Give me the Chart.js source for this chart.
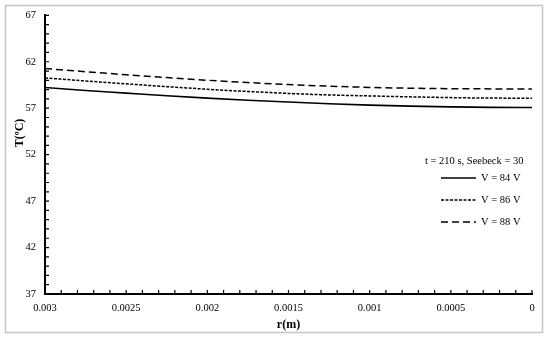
<!DOCTYPE html>
<html>
<head>
<meta charset="utf-8">
<script src="https://cdn.jsdelivr.net/npm/chart.js@4.4.0/dist/chart.umd.min.js"></script>
<style>
  html, body { margin: 0; padding: 0; background: #fff; }
</style>
</head>
<body>
<canvas id="tempChart" width="550" height="339"></canvas>
<script>
// radio (m) y temperatura (ºC)
var radius = [0.003, 0.00275, 0.0025, 0.00225, 0.002, 0.00175, 0.0015, 0.00125, 0.001, 0.00075, 0.0005, 0.00025, 0];
var tempV84 = [59.23, 58.90, 58.62, 58.34, 58.08, 57.86, 57.66, 57.48, 57.33, 57.22, 57.14, 57.09, 57.08];
var tempV86 = [60.26, 59.93, 59.62, 59.32, 59.04, 58.80, 58.59, 58.43, 58.32, 58.22, 58.14, 58.09, 58.08];
var tempV88 = [61.27, 60.93, 60.60, 60.30, 60.01, 59.76, 59.54, 59.37, 59.24, 59.15, 59.10, 59.08, 59.08];
var seriesNames = ['V = 84 V', 'V = 86 V', 'V = 88 V'];
var legendTitle = 't = 210 s, Seebeck = 30';
var yTitle = 'T(ºC)';

var xTicks = [0.003, 0.0025, 0.002, 0.0015, 0.001, 0.0005, 0];
var xTickLabels = ['0.003', '0.0025', '0.002', '0.0015', '0.001', '0.0005', '0'];
var yTicks = [37, 42, 47, 52, 57, 62, 67];

var serif = "'Liberation Serif', 'Times New Roman', serif";

function toPoints(values) {
    return radius.map(function (r, i) { return { x: r, y: values[i] }; });
}

// borde gris alrededor de la figura
var frame = {
    id: 'frame',
    beforeDraw: function (chart) {
        var ctx = chart.ctx;
        ctx.save();
        ctx.fillStyle = '#fff';
        ctx.fillRect(0, 0, chart.width, chart.height);
        ctx.strokeStyle = '#c4c4c4';
        ctx.lineWidth = 1.5;
        ctx.strokeRect(5.5, 5.5, 537, 327);
        ctx.restore();
    }
};

// marcas hacia adentro (mayores y menores) + titulo del eje y
var innerTicks = {
    id: 'innerTicks',
    afterDraw: function (chart) {
        var ctx = chart.ctx;
        var xs = chart.scales.x, ys = chart.scales.y;
        var area = chart.chartArea;
        ctx.save();
        ctx.strokeStyle = '#000';
        ctx.lineWidth = 1.2;
        ctx.beginPath();
        for (var i = 0; i <= 30; i++) {
            var px = xs.getPixelForValue(i * 0.0001);
            ctx.moveTo(px, area.bottom);
            ctx.lineTo(px, area.bottom - 4);
        }
        for (var v = 37; v <= 67; v++) {
            var py = ys.getPixelForValue(v);
            ctx.moveTo(area.left, py);
            ctx.lineTo(area.left + 4, py);
        }
        ctx.stroke();

        ctx.translate(20, 133);
        ctx.rotate(-Math.PI / 2);
        ctx.fillStyle = '#000';
        ctx.font = 'bold 12px ' + serif;
        ctx.textAlign = 'center';
        ctx.textBaseline = 'middle';
        ctx.fillText(yTitle, 0, 0);
        ctx.restore();
    }
};

// leyenda dentro del area del grafico
var boxLegend = {
    id: 'boxLegend',
    afterDraw: function (chart) {
        var ctx = chart.ctx;
        ctx.save();
        ctx.fillStyle = '#000';
        ctx.font = '10.5px ' + serif;
        ctx.textBaseline = 'middle';
        ctx.textAlign = 'left';
        ctx.fillText(legendTitle, 425, 161);
        chart.data.datasets.forEach(function (ds, i) {
            var y = 178 + i * 22;
            ctx.beginPath();
            ctx.strokeStyle = ds.borderColor;
            ctx.lineWidth = ds.borderWidth;
            ctx.setLineDash(ds.borderDash || []);
            ctx.moveTo(441, y);
            ctx.lineTo(476, y);
            ctx.stroke();
            ctx.setLineDash([]);
            ctx.fillText(ds.label, 481, y);
        });
        ctx.restore();
    }
};

var ctx = document.getElementById('tempChart').getContext('2d');
var tempChart = new Chart(ctx, {
    type: 'line',
    data: {
        datasets: [{
            label: seriesNames[0],
            data: toPoints(tempV84),
            borderColor: '#000',
            borderWidth: 1.6,
            borderDash: []
        }, {
            label: seriesNames[1],
            data: toPoints(tempV86),
            borderColor: '#000',
            borderWidth: 1.5,
            borderDash: [3, 1.5]
        }, {
            label: seriesNames[2],
            data: toPoints(tempV88),
            borderColor: '#000',
            borderWidth: 1.5,
            borderDash: [7, 4]
        }]
    },
    options: {
        responsive: false,
        animation: false,
        layout: { padding: { left: 14, right: 18, top: 15, bottom: 7 } },
        elements: {
            point: { radius: 0 },
            line: { cubicInterpolationMode: 'monotone', fill: false }
        },
        plugins: {
            legend: { display: false },
            tooltip: { enabled: false }
        },
        scales: {
            x: {
                type: 'linear',
                reverse: true,
                min: 0,
                max: 0.003,
                afterBuildTicks: function (scale) {
                    scale.ticks = xTicks.map(function (v) { return { value: v }; });
                },
                afterFit: function (scale) { scale.height = 38; },
                ticks: {
                    color: '#000',
                    font: { family: serif, size: 10.5 },
                    padding: 8,
                    maxRotation: 0,
                    autoSkip: false,
                    callback: function (value, index) { return xTickLabels[index]; }
                },
                grid: { drawOnChartArea: false, drawTicks: false },
                border: { display: true, color: '#000', width: 2 },
                title: {
                    display: true,
                    text: 'r(m)',
                    color: '#000',
                    font: { family: serif, size: 12, weight: 'bold' },
                    padding: { top: 4, bottom: 0 }
                }
            },
            y: {
                type: 'linear',
                min: 37,
                max: 67,
                afterBuildTicks: function (scale) {
                    scale.ticks = yTicks.map(function (v) { return { value: v }; });
                },
                afterFit: function (scale) { scale.width = 31; },
                ticks: {
                    color: '#000',
                    font: { family: serif, size: 10.5 },
                    padding: 9,
                    autoSkip: false
                },
                grid: { drawOnChartArea: false, drawTicks: false },
                border: { display: true, color: '#000', width: 2 },
                title: { display: false }
            }
        }
    },
    plugins: [frame, innerTicks, boxLegend]
});
</script>
</body>
</html>
